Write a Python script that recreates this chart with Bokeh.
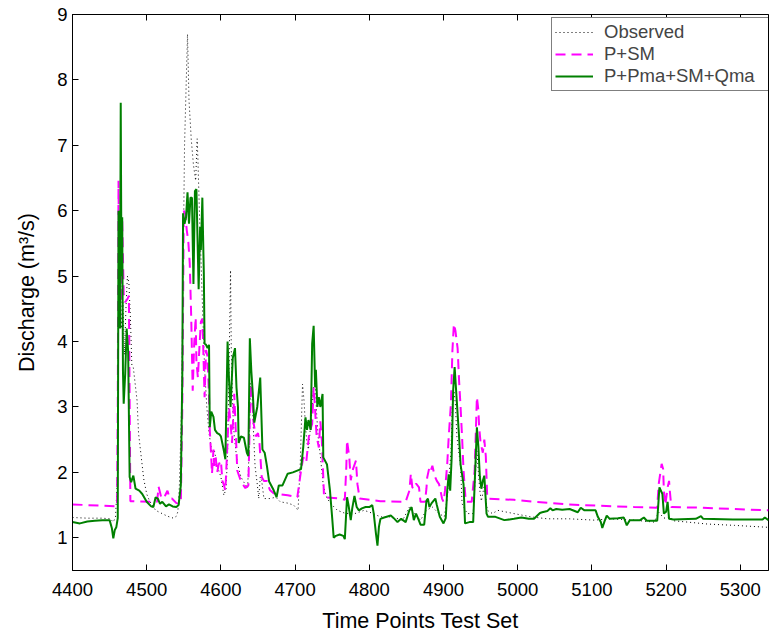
from bokeh.plotting import figure
from bokeh.models import Range1d, LinearAxis, FixedTicker, Legend, LegendItem
from bokeh.embed import file_html
from bokeh.resources import INLINE

# ---- data ----
obs_x = [4400, 4420, 4440, 4451, 4455, 4458, 4461, 4462, 4464, 4466, 4468, 4470, 4472, 4474, 4476, 4478,
         4480, 4482, 4484, 4487, 4489, 4492, 4496, 4500, 4504, 4512, 4519, 4528, 4536, 4540, 4542, 4544,
         4547, 4549, 4551, 4555, 4557, 4559, 4560, 4563, 4566, 4568, 4569, 4571, 4573, 4575, 4578, 4581,
         4584, 4586, 4588, 4591, 4595, 4600, 4604, 4607, 4609, 4611, 4613, 4614, 4616, 4618, 4622, 4627,
         4631, 4636, 4638, 4640, 4642, 4644, 4646, 4649, 4651, 4653, 4655, 4658, 4666, 4674, 4680, 4690,
         4698, 4704, 4707, 4710, 4712, 4714, 4716, 4718, 4720, 4722, 4725, 4727, 4729, 4731, 4734, 4738,
         4743, 4750, 4757, 4766, 4778, 4793, 4803, 4815, 4830, 4845, 4854, 4860, 4869, 4877, 4885, 4893,
         4901, 4905, 4910, 4912, 4914, 4916, 4918, 4923, 4924, 4925, 4932, 4940, 4945, 4947, 4949, 4951,
         4955, 4957, 4959, 4966, 4973, 4995, 5018, 5040, 5070, 5103, 5125, 5157, 5184, 5190, 5197, 5205,
         5210, 5229, 5256, 5292, 5338]
obs_y = [1.31, 1.30, 1.30, 1.29, 1.24, 1.32, 2.0, 4.5, 5.9, 4.2, 4.6, 3.8, 4.5, 5.0, 4.9, 4.37,
         3.64, 3.6, 3.4, 3.1, 2.6, 2.3, 1.9, 1.67, 1.56, 1.42, 1.38, 1.33, 1.30, 1.33, 1.4, 1.78,
         3.0, 5.0, 7.0, 8.7, 7.69, 7.3, 7.1, 6.7, 6.46, 7.1, 6.8, 6.0, 5.3, 4.6, 3.6, 3.0,
         2.6, 2.45, 2.3, 2.35, 2.1, 1.93, 1.65, 1.75, 2.3, 3.6, 5.09, 3.87, 2.95, 2.55, 2.15, 1.93,
         1.85, 1.76, 2.3, 3.36, 3.2, 2.6, 2.1, 1.82, 1.6, 1.93, 1.87, 1.6, 1.6, 1.62, 1.55, 1.53,
         1.5, 1.42, 2.15, 3.35, 3.1, 2.7, 2.45, 2.35, 2.6, 2.85, 3.3, 3.4, 2.9, 2.55, 2.25, 1.8,
         1.6, 1.5, 1.42, 1.38, 1.36, 1.42, 1.38, 1.32, 1.32, 1.27, 1.47, 1.38, 1.27, 1.42, 1.47, 1.38,
         1.32, 1.6, 2.3, 3.05, 3.25, 3.05, 2.55, 2.1, 1.82, 1.52, 1.37, 1.37, 2.33, 2.0, 1.72, 1.56,
         1.8, 1.6, 1.42, 1.37, 1.42, 1.37, 1.32, 1.29, 1.29, 1.27, 1.29, 1.27, 1.24, 1.39, 1.30, 1.32,
         1.26, 1.24, 1.21, 1.19, 1.16]

psm_x = [4400, 4460, 4461, 4462, 4463, 4464, 4466, 4467, 4468, 4469, 4471, 4474, 4476, 4478, 4514, 4516,
         4520, 4525, 4528, 4531, 4534, 4540, 4546, 4548, 4550, 4552, 4554, 4556, 4558, 4560, 4562, 4564,
         4566, 4567, 4569, 4571, 4573, 4575, 4576, 4578, 4580, 4582, 4584, 4585, 4587, 4588, 4590, 4591,
         4593, 4595, 4597, 4600, 4602, 4604, 4606, 4611, 4613, 4615, 4618, 4620, 4622, 4625, 4627, 4630,
         4633, 4637, 4640, 4642, 4644, 4647, 4650, 4652, 4655, 4658, 4662, 4666, 4671, 4690, 4703, 4708,
         4711, 4715, 4719, 4723, 4725, 4727, 4729, 4732, 4734, 4736, 4739, 4761, 4767, 4769, 4770, 4773,
         4775, 4778, 4782, 4784, 4787, 4815, 4849, 4854, 4856, 4858, 4861, 4863, 4867, 4869, 4875, 4877,
         4878, 4881, 4883, 4885, 4888, 4891, 4894, 4896, 4898, 4900, 4902, 4905, 4907, 4910, 4912, 4914,
         4916, 4919, 4921, 4923, 4925, 4927, 4930, 4938, 4942, 4945, 4947, 4948, 4950, 4953, 4955, 4957,
         4959, 4995, 5022, 5067, 5112, 5157, 5188, 5190, 5194, 5196, 5197, 5199, 5202, 5204, 5205, 5207,
         5247, 5290, 5338]
psm_y = [1.51, 1.48, 3.0, 6.46, 4.5, 5.0, 4.6, 5.85, 5.3, 4.73, 4.6, 4.65, 4.7, 1.56, 1.55, 1.78,
         1.6, 1.65, 1.72, 1.6, 1.6, 1.53, 1.52, 3.0, 6.0, 5.95, 5.7, 5.54, 5.2, 4.37, 3.25, 3.96,
         4.37, 3.7, 3.45, 3.9, 4.3, 4.35, 4.0, 3.15, 3.87, 3.77, 3.15, 2.65, 2.23, 1.98, 2.35, 2.1,
         2.23, 2.0, 2.12, 2.18, 1.87, 1.81, 1.72, 3.0, 2.76, 2.45, 3.2, 2.65, 2.03, 1.93, 1.87, 1.81,
         1.76, 1.8, 3.35, 3.15, 2.76, 2.55, 2.6, 2.45, 1.93, 1.87, 1.87, 1.73, 1.68, 1.65, 1.62, 2.03,
         2.23, 2.15, 2.6, 2.74, 3.3, 2.95, 2.55, 2.38, 2.78, 2.5, 1.62, 1.6, 1.58, 2.08, 2.49, 2.23,
         1.88, 2.05, 2.18, 1.82, 1.6, 1.56, 1.55, 1.72, 1.98, 1.77, 1.75, 1.83, 1.77, 1.55, 1.55, 1.75,
         1.92, 2.08, 2.03, 2.1, 1.95, 1.87, 1.82, 1.72, 1.6, 1.55, 1.72, 2.12, 2.54, 3.05, 3.86, 4.27,
         4.17, 3.9, 3.4, 3.0, 2.55, 2.03, 1.55, 1.55, 2.03, 3.15, 2.95, 2.7, 2.45, 2.3, 2.5, 2.25,
         1.6, 1.58, 1.55, 1.51, 1.49, 1.47, 1.46, 1.82, 2.13, 2.05, 1.72, 1.5, 1.77, 1.87, 1.72, 1.47,
         1.46, 1.44, 1.42]

full_x = [4400, 4410, 4420, 4430, 4440, 4450, 4453, 4455, 4457, 4459, 4461, 4462, 4463, 4464, 4465, 4466,
          4467, 4468, 4469, 4471, 4473, 4475, 4477, 4479, 4482, 4485, 4490, 4494, 4500, 4506, 4509, 4512,
          4515, 4518, 4521, 4526, 4530, 4535, 4540, 4543, 4546, 4548, 4549, 4551, 4553, 4555, 4557, 4559,
          4561, 4563, 4565, 4567, 4570, 4572, 4573, 4575, 4576, 4577, 4578, 4580, 4582, 4584, 4585, 4587,
          4590, 4592, 4595, 4598, 4600, 4604, 4606, 4609, 4611, 4613, 4616, 4619, 4621, 4623, 4624, 4627,
          4631, 4635, 4637, 4639, 4641, 4643, 4645, 4649, 4653, 4656, 4659, 4662, 4665, 4671, 4675, 4678,
          4683, 4690, 4697, 4708, 4711, 4714, 4716, 4718, 4721, 4723, 4725, 4727, 4728, 4730, 4732, 4734,
          4737, 4738, 4743, 4747, 4750, 4752, 4755, 4760, 4765, 4767, 4770, 4772, 4775, 4777, 4780, 4783,
          4786, 4790, 4795, 4800, 4804, 4806, 4809, 4811, 4813, 4815, 4820, 4829, 4833, 4838, 4843, 4849,
          4854, 4857, 4860, 4863, 4866, 4869, 4874, 4877, 4879, 4881, 4884, 4889, 4891, 4895, 4900, 4903,
          4905, 4907, 4909, 4911, 4913, 4915, 4917, 4921, 4923, 4927, 4929, 4935, 4940, 4942, 4945, 4947,
          4949, 4951, 4953, 4955, 4958, 4960, 4970, 4982, 4995, 5005, 5015, 5022, 5030, 5033, 5040, 5044,
          5047, 5052, 5060, 5070, 5081, 5085, 5090, 5105, 5108, 5112, 5114, 5117, 5120, 5124, 5135, 5143,
          5147, 5151, 5165, 5170, 5174, 5188, 5191, 5193, 5195, 5197, 5200, 5202, 5204, 5210, 5240, 5247,
          5250, 5290, 5330, 5333, 5338]
full_y = [1.24, 1.22, 1.25, 1.26, 1.27, 1.27, 1.15, 0.99, 1.12, 1.16, 1.3, 6.0, 5.2, 4.2, 7.65, 5.0,
          5.9, 3.55, 3.05, 3.5, 4.2, 3.85, 1.93, 1.85, 1.95, 1.75, 1.72, 1.67, 1.55, 1.48, 1.47, 1.62,
          1.6, 1.52, 1.55, 1.48, 1.51, 1.48, 1.47, 1.5, 1.8, 3.5, 5.96, 5.8, 5.9, 6.28, 5.8, 6.2,
          6.2, 4.88, 6.3, 6.33, 4.8, 5.75, 5.4, 6.2, 5.6, 5.04, 3.97, 3.95, 3.9, 3.95, 2.69, 2.93,
          2.85, 2.65, 2.6, 2.58, 2.55, 2.33, 2.2, 4.0, 3.4, 3.0, 3.75, 3.9, 3.3, 3.0, 2.45, 2.55,
          2.53, 2.3, 2.25, 4.05, 3.55, 3.2, 2.76, 3.0, 3.45, 2.35, 2.3, 2.1, 1.86, 1.73, 1.62, 1.8,
          1.8, 1.98, 2.0, 2.05, 2.39, 2.84, 2.65, 2.8, 2.65, 3.97, 4.24, 3.3, 3.57, 3.0, 3.15, 3.0,
          3.2, 2.23, 2.12, 1.72, 1.3, 1.0, 1.03, 1.05, 1.03, 0.98, 1.62, 1.5, 1.27, 1.45, 1.64, 1.47,
          1.42, 1.45, 1.47, 1.47, 1.5, 1.37, 1.06, 0.88, 1.17, 1.29, 1.31, 1.34, 1.3, 1.24, 1.29, 1.24,
          1.42, 1.47, 1.27, 1.37, 1.29, 1.2, 1.2, 1.57, 1.6, 1.47, 1.53, 1.6, 1.5, 1.32, 1.22, 1.3,
          1.72, 1.97, 1.72, 2.23, 3.25, 3.61, 3.25, 2.54, 2.12, 1.82, 1.22, 1.24, 1.24, 1.82, 2.69, 2.39,
          1.93, 1.75, 1.87, 1.95, 1.37, 1.32, 1.32, 1.27, 1.29, 1.31, 1.29, 1.29, 1.38, 1.39, 1.41, 1.45,
          1.42, 1.44, 1.43, 1.44, 1.39, 1.46, 1.42, 1.42, 1.32, 1.24, 1.15, 1.25, 1.34, 1.29, 1.3, 1.31,
          1.19, 1.27, 1.27, 1.31, 1.26, 1.26, 1.77, 1.72, 1.67, 1.37, 1.4, 1.55, 1.29, 1.28, 1.29, 1.33,
          1.29, 1.28, 1.28, 1.31, 1.27]

x_ticks = [4400, 4500, 4600, 4700, 4800, 4900, 5000, 5100, 5200, 5300]
y_ticks = [1, 2, 3, 4, 5, 6, 7, 8, 9]
series_labels = ["Observed", "P+SM", "P+Pma+SM+Qma"]

FONT = "Liberation Sans"

p = figure(width=769, height=637, output_backend="svg", toolbar_location=None,
           x_range=Range1d(4400, 5338), y_range=Range1d(0.5, 9),
           min_border_left=72, min_border_right=1, min_border_top=14, min_border_bottom=67,
           x_axis_label="Time Points Test Set", y_axis_label="Discharge (m\u00b3/s)")
p.background_fill_color = "white"
p.border_fill_color = "white"
p.outline_line_color = "black"
p.outline_line_width = 1
p.xgrid.visible = False
p.ygrid.visible = False

for ax, ticks in ((p.xaxis[0], x_ticks), (p.yaxis[0], y_ticks)):
    ax.ticker = FixedTicker(ticks=ticks)
    ax.minor_tick_line_color = None
    ax.major_tick_in = 6
    ax.major_tick_out = 0
    ax.axis_line_color = "black"
    ax.major_tick_line_color = "black"
    ax.major_label_text_font = FONT
    ax.major_label_text_font_size = "18.5px"
    ax.major_label_text_color = "black"
    ax.axis_label_text_font = FONT
    ax.axis_label_text_font_size = "21.5px"
    ax.axis_label_text_font_style = "normal"
    ax.axis_label_text_color = "black"

p.xaxis.major_label_standoff = 12
p.xaxis.axis_label_standoff = 10
p.yaxis.major_label_standoff = 5
p.yaxis.axis_label_standoff = 15

# tick marks along the top edge only (no labels)
top = LinearAxis(ticker=FixedTicker(ticks=x_ticks), major_tick_in=6, major_tick_out=0,
                 minor_tick_line_color=None, major_label_text_font_size="1px",
                 major_label_text_color=None, major_label_standoff=0,
                 major_label_overrides={t: "" for t in x_ticks}, axis_line_color="black")
p.add_layout(top, "above")

r_obs = p.line(obs_x, obs_y, line_color="black", line_width=1, line_dash="1 3")
r_psm = p.line(psm_x, psm_y, line_color="#ff00ff", line_width=2, line_dash="10 6")
r_full = p.line(full_x, full_y, line_color="#008000", line_width=2)

legend = Legend(items=[LegendItem(label=series_labels[0], renderers=[r_obs]),
                       LegendItem(label=series_labels[1], renderers=[r_psm]),
                       LegendItem(label=series_labels[2], renderers=[r_full])],
                location=(479, 479), padding=3, spacing=0, glyph_width=38, label_standoff=11,
                label_width=162, label_text_font=FONT, label_text_font_size="18.5px", label_height=20,
                border_line_color="black", border_line_width=1, background_fill_alpha=1,
                margin=0)
p.add_layout(legend)

open("out.html", "w").write(file_html(p, INLINE))
